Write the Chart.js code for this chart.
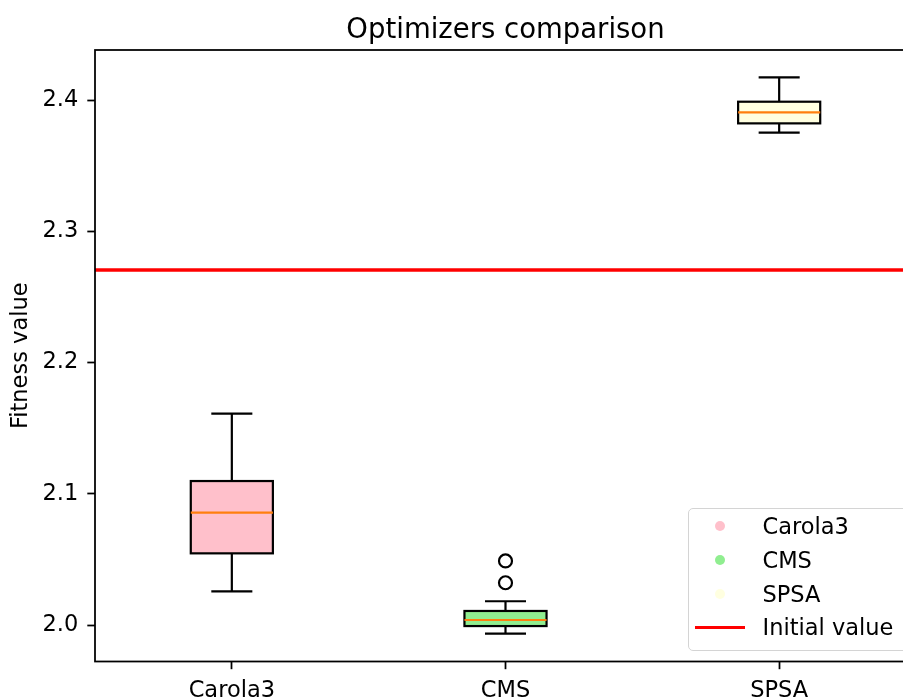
<!DOCTYPE html>
<html>
<head>
<meta charset="utf-8">
<script src="https://cdn.jsdelivr.net/npm/chart.js@4.4.1/dist/chart.umd.min.js"></script>
<style>
  html, body { margin: 0; padding: 0; background: #fff; overflow: hidden; }
  #wrap { position: relative; width: 903px; height: 698px; overflow: hidden; font-family: "DejaVu Sans", sans-serif; color: #000; }
  #chart { position: absolute; left: 0; top: 0; }
  #title { position: absolute; left: 95px; width: 821px; top: 12px; text-align: center; font-size: 27.5px; line-height: 32px; }
  #legend { position: absolute; left: 688px; top: 508px; width: 224px; height: 143px; box-sizing: border-box;
            border: 1.5px solid #d4d4d4; border-radius: 5px; background: rgba(255,255,255,0.8); font-size: 22.5px; }
  .mark { position: absolute; width: 10px; height: 10px; border-radius: 50%; }
  .ln { position: absolute; width: 50px; height: 3px; }
  .txt { position: absolute; line-height: 26px; white-space: nowrap; }
</style>
</head>
<body>
<div id="wrap">
  <canvas id="chart" width="930" height="698"></canvas>
  <div id="title">Optimizers comparison</div>
  <div id="legend"></div>
</div>
<script>
// box plot statistics
const categories = ['Carola3', 'CMS', 'SPSA'];
const boxColors = ['pink', 'lightgreen', 'lightyellow'];
const whiskerLow = [2.0257, 1.9934, 2.3751];
const q1 = [2.0546, 1.9992, 2.3822];
const medians = [2.0856, 2.0038, 2.3906];
const q3 = [2.1097, 2.0107, 2.3987];
const whiskerHigh = [2.1610, 2.0181, 2.4173];
const outlierCategory = ['CMS', 'CMS'];
const outlierValues = [2.0322, 2.0488];
const initialValue = 2.2705;
const initialLabel = 'Initial value';
const yTicks = [2.0, 2.1, 2.2, 2.3, 2.4];
const yMin = 1.9722, yMax = 2.4381;

// legend (html)
var legend = document.getElementById('legend');
var rowY = [18.7, 52.7, 86, 119.7];
categories.forEach(function (name, i) {
    legend.insertAdjacentHTML('beforeend',
        '<div class="mark" style="left:' + 26.2 + 'px;top:' + (rowY[i] - 6.5) + 'px;background:' + boxColors[i] + '"></div>' +
        '<div class="txt" style="left:73.5px;top:' + (rowY[i] - 14.5) + 'px">' + name + '</div>');
});
legend.insertAdjacentHTML('beforeend',
    '<div class="ln" style="left:6.2px;top:' + (rowY[3] - 3) + 'px;background:red"></div>' +
    '<div class="txt" style="left:73.5px;top:' + (rowY[3] - 14.5) + 'px">' + initialLabel + '</div>');

var boxPlugin = {
    id: 'boxWhiskers',
    afterDatasetsDraw: function (chart) {
        var ctx = chart.ctx, y = chart.scales.y, area = chart.chartArea;
        var bars = chart.getDatasetMeta(0).data;
        ctx.save();
        ctx.strokeStyle = '#000';
        ctx.lineWidth = 2.2;
        bars.forEach(function (bar, i) {
            var x = bar.x, half = bar.width / 2, cap = half / 2;
            var yq1 = y.getPixelForValue(q1[i]), yq3 = y.getPixelForValue(q3[i]);
            var ylo = y.getPixelForValue(whiskerLow[i]), yhi = y.getPixelForValue(whiskerHigh[i]);
            ctx.strokeRect(x - half, yq3, half * 2, yq1 - yq3);
            ctx.beginPath();
            ctx.moveTo(x, yq1); ctx.lineTo(x, ylo);
            ctx.moveTo(x, yq3); ctx.lineTo(x, yhi);
            ctx.moveTo(x - cap, ylo); ctx.lineTo(x + cap, ylo);
            ctx.moveTo(x - cap, yhi); ctx.lineTo(x + cap, yhi);
            ctx.stroke();
            var ym = y.getPixelForValue(medians[i]);
            ctx.beginPath();
            ctx.strokeStyle = '#ff7f0e';
            ctx.moveTo(x - half, ym); ctx.lineTo(x + half, ym);
            ctx.stroke();
            ctx.strokeStyle = '#000';
        });
        // initial value reference line
        var yr = y.getPixelForValue(initialValue);
        ctx.beginPath();
        ctx.strokeStyle = 'red';
        ctx.lineWidth = 3.3;
        ctx.moveTo(area.left, yr); ctx.lineTo(area.right, yr);
        ctx.stroke();
        // frame
        ctx.strokeStyle = '#000';
        ctx.lineWidth = 1.76;
        ctx.strokeRect(area.left, area.top, area.right - area.left, area.bottom - area.top);
        ctx.restore();
    }
};

new Chart(document.getElementById('chart'), {
    type: 'bar',
    data: {
        labels: categories,
        datasets: [{
            label: 'box',
            data: categories.map(function (c, i) { return [q1[i], q3[i]]; }),
            backgroundColor: boxColors,
            borderWidth: 0,
            barPercentage: 0.3,
            categoryPercentage: 1
        }, {
            type: 'scatter',
            label: 'outliers',
            data: outlierValues.map(function (v, i) { return { x: outlierCategory[i], y: v }; }),
            pointStyle: 'circle',
            pointRadius: 6.5,
            borderColor: '#000',
            borderWidth: 2.2,
            backgroundColor: 'rgba(0,0,0,0)'
        }]
    },
    options: {
        responsive: false,
        animation: false,
        devicePixelRatio: 1,
        layout: { padding: { top: 50, right: 14, left: 0, bottom: 0 } },
        plugins: { legend: { display: false }, tooltip: { enabled: false }, title: { display: false } },
        scales: {
            x: {
                type: 'category',
                offset: true,
                grid: { offset: false, drawOnChartArea: false, tickLength: 7.7, tickWidth: 1.76, tickColor: '#000' },
                border: { display: false },
                ticks: { color: '#000', padding: 8, font: { family: 'DejaVu Sans', size: 22.5 } },
                afterFit: function (scale) { scale.height = 36.5; }
            },
            y: {
                min: yMin,
                max: yMax,
                grid: { drawOnChartArea: false, tickLength: 7.7, tickWidth: 1.76, tickColor: '#000' },
                border: { display: false },
                afterBuildTicks: function (scale) { scale.ticks = yTicks.map(function (v) { return { value: v }; }); },
                ticks: {
                    color: '#000', padding: 9, font: { family: 'DejaVu Sans', size: 22.5 },
                    callback: function (v) { return Number(v).toFixed(1); }
                },
                title: { display: true, text: 'Fitness value', color: '#000', padding: { top: 8, bottom: 0 },
                         font: { family: 'DejaVu Sans', size: 22.5 } },
                afterFit: function (scale) { scale.width = 95; }
            }
        }
    },
    plugins: [boxPlugin]
});
</script>
</body>
</html>
